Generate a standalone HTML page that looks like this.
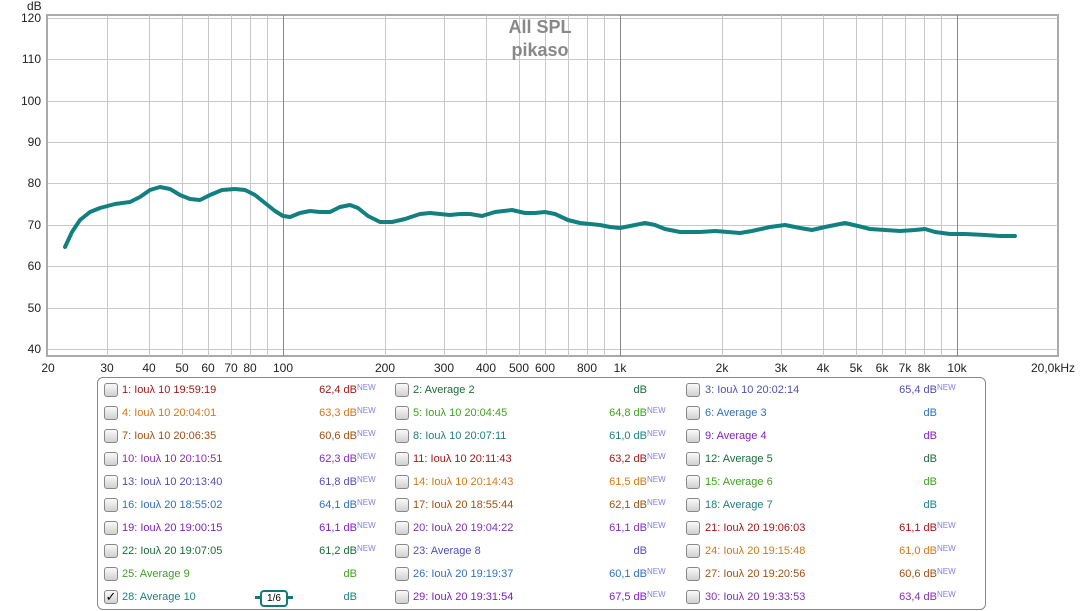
<!DOCTYPE html>
<html><head><meta charset="utf-8"><style>
body{margin:0;width:1081px;height:611px;background:#fff;overflow:hidden;position:relative;font-family:"Liberation Sans","DejaVu Sans",sans-serif;}
.leg{position:absolute;left:97px;top:377px;width:887px;height:231px;border:1px solid #888;border-radius:6px;}
.r{position:absolute;font-size:11px;white-space:nowrap;line-height:13px;}
.cb{position:absolute;width:12px;height:12px;border:1px solid #888;border-radius:3px;background:linear-gradient(#fafafa,#d0d0d0);}
.v{position:absolute;font-size:11px;white-space:nowrap;text-align:right;width:80px;line-height:13px;}
.v sup{font-size:8px;color:#8080e0;position:absolute;left:100%;top:-3px;}
</style></head><body>
<svg width="1081" height="378" style="position:absolute;left:0;top:0">
<rect x="47" y="15" width="1011" height="341" fill="#fff" stroke="#aaa" stroke-width="2"/>
<g stroke="#c8c8c8" stroke-width="1">
<line x1="48" x2="1058" y1="18.5" y2="18.5"/><line x1="48" x2="1058" y1="59.5" y2="59.5"/><line x1="48" x2="1058" y1="101.5" y2="101.5"/><line x1="48" x2="1058" y1="142.5" y2="142.5"/><line x1="48" x2="1058" y1="183.5" y2="183.5"/><line x1="48" x2="1058" y1="225.5" y2="225.5"/><line x1="48" x2="1058" y1="266.5" y2="266.5"/><line x1="48" x2="1058" y1="308.5" y2="308.5"/><line x1="48" x2="1058" y1="349.5" y2="349.5"/>
<line x1="107.5" x2="107.5" y1="15" y2="356"/><line x1="149.5" x2="149.5" y1="15" y2="356"/><line x1="182.5" x2="182.5" y1="15" y2="356"/><line x1="208.5" x2="208.5" y1="15" y2="356"/><line x1="231.5" x2="231.5" y1="15" y2="356"/><line x1="250.5" x2="250.5" y1="15" y2="356"/><line x1="267.5" x2="267.5" y1="15" y2="356"/>
<line x1="385.5" x2="385.5" y1="15" y2="356"/><line x1="444.5" x2="444.5" y1="15" y2="356"/><line x1="486.5" x2="486.5" y1="15" y2="356"/><line x1="519.5" x2="519.5" y1="15" y2="356"/><line x1="545.5" x2="545.5" y1="15" y2="356"/><line x1="568.5" x2="568.5" y1="15" y2="356"/><line x1="587.5" x2="587.5" y1="15" y2="356"/><line x1="604.5" x2="604.5" y1="15" y2="356"/>
<line x1="722.5" x2="722.5" y1="15" y2="356"/><line x1="781.5" x2="781.5" y1="15" y2="356"/><line x1="823.5" x2="823.5" y1="15" y2="356"/><line x1="856.5" x2="856.5" y1="15" y2="356"/><line x1="882.5" x2="882.5" y1="15" y2="356"/><line x1="905.5" x2="905.5" y1="15" y2="356"/><line x1="924.5" x2="924.5" y1="15" y2="356"/><line x1="941.5" x2="941.5" y1="15" y2="356"/>
</g>
<g stroke="#888" stroke-width="1"><line x1="283.5" x2="283.5" y1="15" y2="356"/><line x1="620.5" x2="620.5" y1="15" y2="356"/><line x1="957.5" x2="957.5" y1="15" y2="356"/></g>
<text x="540" y="33" text-anchor="middle" font-size="18" font-weight="bold" fill="#888" font-family="Liberation Sans,sans-serif">All SPL</text>
<text x="540" y="56" text-anchor="middle" font-size="18" font-weight="bold" fill="#888" font-family="Liberation Sans,sans-serif">pikaso</text>
<polyline fill="none" stroke="#138080" stroke-width="4" stroke-linejoin="round" stroke-linecap="round" points="65,247 72,232 80,220 90,212 100,208 115,204 130,202 140,197 150,190 160,187 170,189 180,195 190,199 200,200 210,195 222,190 235,189 245,190 255,195 265,203 275,211 283,216 290,217 300,213 310,211 320,212 330,212 340,207 350,205 358,208 368,216 380,222 392,222 405,219 420,214 430,213 440,214 450,215 460,214 470,214 482,216 495,212 512,210 525,213 535,213 545,212 555,214 568,220 580,223 600,225 610,227 620,228 630,226 645,223 655,225 665,229 680,232 700,232 715,231 728,232 740,233 752,231 770,227 785,225 800,228 812,230 825,227 845,223 858,226 870,229 885,230 900,231 915,230 925,229 935,232 950,234 965,234 985,235 1000,236 1015,236"/>
<g font-size="12" fill="#222" font-family="Liberation Sans,sans-serif" text-anchor="end">
<text x="41" y="22">120</text><text x="41" y="63">110</text><text x="41" y="105">100</text><text x="41" y="146">90</text><text x="41" y="187">80</text><text x="41" y="229">70</text><text x="41" y="270">60</text><text x="41" y="312">50</text><text x="41" y="353">40</text>
</g>
<text x="27" y="10" font-size="12" fill="#222" font-family="Liberation Sans,sans-serif">dB</text>
<g font-size="12" fill="#222" font-family="Liberation Sans,sans-serif" text-anchor="middle">
<text x="48" y="372">20</text><text x="107" y="372">30</text><text x="149" y="372">40</text><text x="182" y="372">50</text><text x="208" y="372">60</text><text x="231" y="372">70</text><text x="250" y="372">80</text><text x="283" y="372">100</text>
<text x="385" y="372">200</text><text x="444" y="372">300</text><text x="486" y="372">400</text><text x="519" y="372">500</text><text x="545" y="372">600</text><text x="587" y="372">800</text><text x="620" y="372">1k</text>
<text x="722" y="372">2k</text><text x="781" y="372">3k</text><text x="823" y="372">4k</text><text x="856" y="372">5k</text><text x="882" y="372">6k</text><text x="905" y="372">7k</text><text x="924" y="372">8k</text><text x="957" y="372">10k</text>
<text x="1053" y="372">20,0kHz</text>
</g>
</svg>
<div class="leg"></div>

<div class="cb" style="left:104px;top:383px"></div><div class="r" style="left:122px;top:384px;color:#a01818">1: Iouλ 10 19:59:19</div><div class="v" style="left:277px;top:384px;color:#a01818">62,4 dB<sup>NEW</sup></div>
<div class="cb" style="left:395px;top:383px"></div><div class="r" style="left:413px;top:384px;color:#1e6a3a">2: Average 2</div><div class="v" style="left:567px;top:384px;color:#1e6a3a">dB</div>
<div class="cb" style="left:686px;top:383px"></div><div class="r" style="left:705px;top:384px;color:#5050b0">3: Iouλ 10 20:02:14</div><div class="v" style="left:857px;top:384px;color:#5050b0">65,4 dB<sup>NEW</sup></div>
<div class="cb" style="left:104px;top:406px"></div><div class="r" style="left:122px;top:407px;color:#d07818">4: Iouλ 10 20:04:01</div><div class="v" style="left:277px;top:407px;color:#d07818">63,3 dB<sup>NEW</sup></div>
<div class="cb" style="left:395px;top:406px"></div><div class="r" style="left:413px;top:407px;color:#40a020">5: Iouλ 10 20:04:45</div><div class="v" style="left:567px;top:407px;color:#40a020">64,8 dB<sup>NEW</sup></div>
<div class="cb" style="left:686px;top:406px"></div><div class="r" style="left:705px;top:407px;color:#3070c0">6: Average 3</div><div class="v" style="left:857px;top:407px;color:#3070c0">dB</div>
<div class="cb" style="left:104px;top:429px"></div><div class="r" style="left:122px;top:430px;color:#a05010">7: Iouλ 10 20:06:35</div><div class="v" style="left:277px;top:430px;color:#a05010">60,6 dB<sup>NEW</sup></div>
<div class="cb" style="left:395px;top:429px"></div><div class="r" style="left:413px;top:430px;color:#208080">8: Iouλ 10 20:07:11</div><div class="v" style="left:567px;top:430px;color:#208080">61,0 dB<sup>NEW</sup></div>
<div class="cb" style="left:686px;top:429px"></div><div class="r" style="left:705px;top:430px;color:#8020c0">9: Average 4</div><div class="v" style="left:857px;top:430px;color:#8020c0">dB</div>
<div class="cb" style="left:104px;top:452px"></div><div class="r" style="left:122px;top:453px;color:#8030b0">10: Iouλ 10 20:10:51</div><div class="v" style="left:277px;top:453px;color:#8030b0">62,3 dB<sup>NEW</sup></div>
<div class="cb" style="left:395px;top:452px"></div><div class="r" style="left:413px;top:453px;color:#a01818">11: Iouλ 10 20:11:43</div><div class="v" style="left:567px;top:453px;color:#a01818">63,2 dB<sup>NEW</sup></div>
<div class="cb" style="left:686px;top:452px"></div><div class="r" style="left:705px;top:453px;color:#1e6a3a">12: Average 5</div><div class="v" style="left:857px;top:453px;color:#1e6a3a">dB</div>
<div class="cb" style="left:104px;top:475px"></div><div class="r" style="left:122px;top:476px;color:#5050b0">13: Iouλ 10 20:13:40</div><div class="v" style="left:277px;top:476px;color:#5050b0">61,8 dB<sup>NEW</sup></div>
<div class="cb" style="left:395px;top:475px"></div><div class="r" style="left:413px;top:476px;color:#d07818">14: Iouλ 10 20:14:43</div><div class="v" style="left:567px;top:476px;color:#d07818">61,5 dB<sup>NEW</sup></div>
<div class="cb" style="left:686px;top:475px"></div><div class="r" style="left:705px;top:476px;color:#40a020">15: Average 6</div><div class="v" style="left:857px;top:476px;color:#40a020">dB</div>
<div class="cb" style="left:104px;top:498px"></div><div class="r" style="left:122px;top:499px;color:#3070c0">16: Iouλ 20 18:55:02</div><div class="v" style="left:277px;top:499px;color:#3070c0">64,1 dB<sup>NEW</sup></div>
<div class="cb" style="left:395px;top:498px"></div><div class="r" style="left:413px;top:499px;color:#a05010">17: Iouλ 20 18:55:44</div><div class="v" style="left:567px;top:499px;color:#a05010">62,1 dB<sup>NEW</sup></div>
<div class="cb" style="left:686px;top:498px"></div><div class="r" style="left:705px;top:499px;color:#208080">18: Average 7</div><div class="v" style="left:857px;top:499px;color:#208080">dB</div>
<div class="cb" style="left:104px;top:521px"></div><div class="r" style="left:122px;top:522px;color:#8020c0">19: Iouλ 20 19:00:15</div><div class="v" style="left:277px;top:522px;color:#8020c0">61,1 dB<sup>NEW</sup></div>
<div class="cb" style="left:395px;top:521px"></div><div class="r" style="left:413px;top:522px;color:#8030b0">20: Iouλ 20 19:04:22</div><div class="v" style="left:567px;top:522px;color:#8030b0">61,1 dB<sup>NEW</sup></div>
<div class="cb" style="left:686px;top:521px"></div><div class="r" style="left:705px;top:522px;color:#a01818">21: Iouλ 20 19:06:03</div><div class="v" style="left:857px;top:522px;color:#a01818">61,1 dB<sup>NEW</sup></div>
<div class="cb" style="left:104px;top:544px"></div><div class="r" style="left:122px;top:545px;color:#1e6a3a">22: Iouλ 20 19:07:05</div><div class="v" style="left:277px;top:545px;color:#1e6a3a">61,2 dB<sup>NEW</sup></div>
<div class="cb" style="left:395px;top:544px"></div><div class="r" style="left:413px;top:545px;color:#5050b0">23: Average 8</div><div class="v" style="left:567px;top:545px;color:#5050b0">dB</div>
<div class="cb" style="left:686px;top:544px"></div><div class="r" style="left:705px;top:545px;color:#d07818">24: Iouλ 20 19:15:48</div><div class="v" style="left:857px;top:545px;color:#d07818">61,0 dB<sup>NEW</sup></div>
<div class="cb" style="left:104px;top:567px"></div><div class="r" style="left:122px;top:568px;color:#40a020">25: Average 9</div><div class="v" style="left:277px;top:568px;color:#40a020">dB</div>
<div class="cb" style="left:395px;top:567px"></div><div class="r" style="left:413px;top:568px;color:#3070c0">26: Iouλ 20 19:19:37</div><div class="v" style="left:567px;top:568px;color:#3070c0">60,1 dB<sup>NEW</sup></div>
<div class="cb" style="left:686px;top:567px"></div><div class="r" style="left:705px;top:568px;color:#a05010">27: Iouλ 20 19:20:56</div><div class="v" style="left:857px;top:568px;color:#a05010">60,6 dB<sup>NEW</sup></div>
<div class="cb" style="left:104px;top:590px;font-size:13px;line-height:12px;text-align:center;color:#000">✓</div><div class="r" style="left:122px;top:591px;color:#208080">28: Average 10</div>
<div style="position:absolute;left:260px;top:590px;width:24px;height:13px;border:2px solid #137878;border-radius:4px;font-size:10px;line-height:13px;text-align:center;color:#000">1/6</div>
<div style="position:absolute;left:255px;top:596px;width:5px;height:3px;background:#137878"></div><div style="position:absolute;left:288px;top:596px;width:5px;height:3px;background:#137878"></div>
<div class="v" style="left:277px;top:591px;color:#208080">dB</div>
<div class="cb" style="left:395px;top:590px"></div><div class="r" style="left:413px;top:591px;color:#8020c0">29: Iouλ 20 19:31:54</div><div class="v" style="left:567px;top:591px;color:#8020c0">67,5 dB<sup>NEW</sup></div>
<div class="cb" style="left:686px;top:590px"></div><div class="r" style="left:705px;top:591px;color:#8030b0">30: Iouλ 20 19:33:53</div><div class="v" style="left:857px;top:591px;color:#8030b0">63,4 dB<sup>NEW</sup></div>
</body></html>
